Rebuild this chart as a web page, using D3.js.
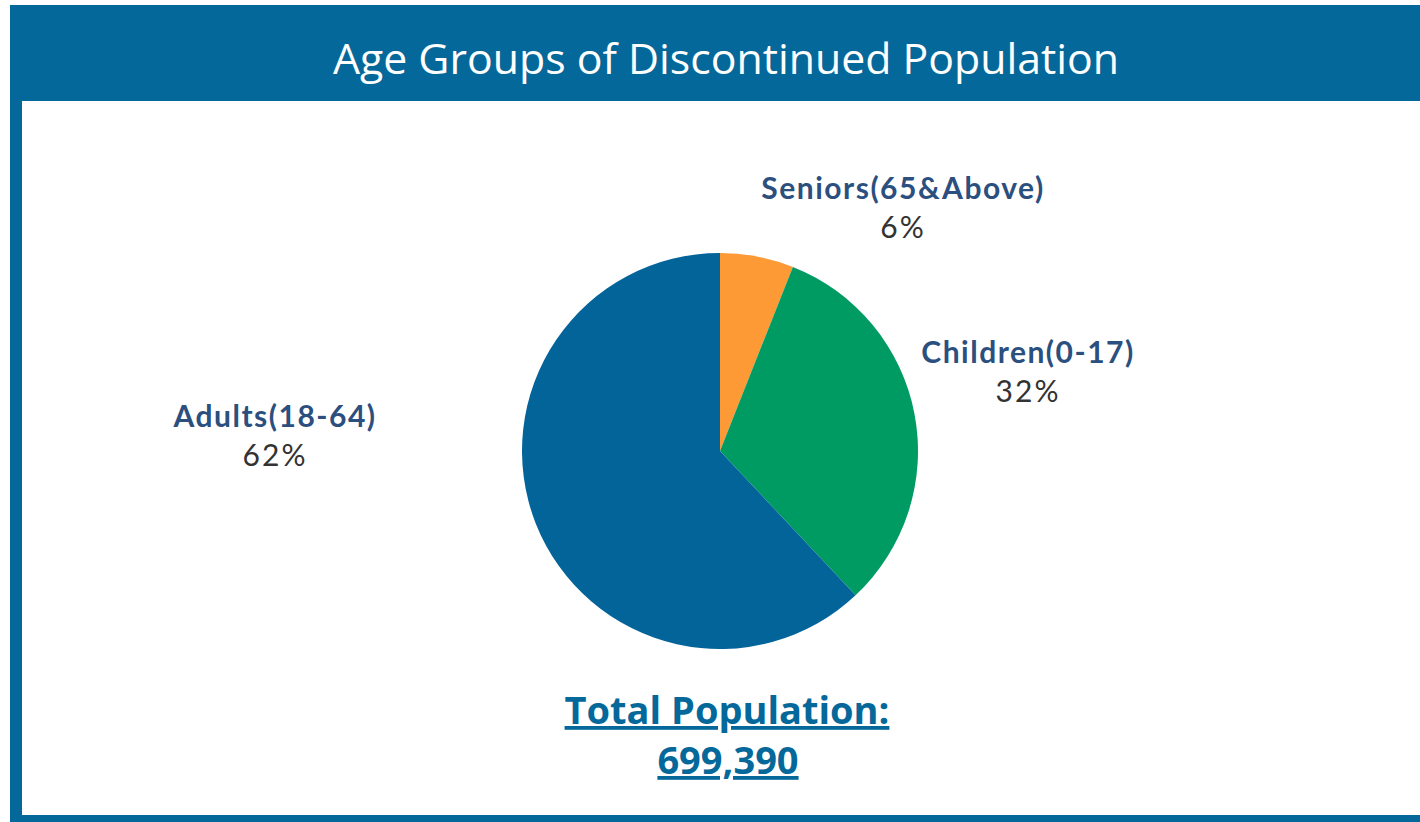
<!DOCTYPE html>
<html>
<head>
<meta charset="utf-8">
<script src="https://cdn.jsdelivr.net/npm/d3@7"></script>
<style>
  html, body { margin: 0; padding: 0; background: #fff; }
  svg { display: block; }
</style>
</head>
<body>
<svg id="chart" width="1420" height="822"></svg>
<script>
// Age group shares of the discontinued population
const categories = ["Seniors(65&Above)", "Children(0-17)", "Adults(18-64)"];
const shares = [6, 32, 62];
const totalPopulation = 699390;
const chartTitle = "Age Groups of Discontinued Population";

const colors = ["#fd9a36", "#009b62", "#03649a"];
const frameBlue = "#05689a";

const svg = d3.select("#chart");
const W = 1420, H = 822;

// Frame: title bar, left rule and bottom rule
svg.append("rect").attr("x", 10).attr("y", 5).attr("width", W - 10).attr("height", 96).attr("fill", frameBlue);
svg.append("rect").attr("x", 10).attr("y", 5).attr("width", 12).attr("height", H - 5).attr("fill", frameBlue);
svg.append("rect").attr("x", 10).attr("y", 815).attr("width", W - 10).attr("height", 7).attr("fill", frameBlue);

svg.append("text")
  .attr("x", 726).attr("y", 74)
  .attr("text-anchor", "middle")
  .attr("fill", "#fff")
  .style("font-family", "'Open Sans', sans-serif")
  .style("font-size", "42.8px")
  .text(chartTitle);

// Pie
const cx = 720, cy = 451, r = 198;
const pie = d3.pie().sort(null).value(d => d)(shares);
const arc = d3.arc().innerRadius(0).outerRadius(r);

const g = svg.append("g").attr("transform", `translate(${cx},${cy})`);
g.selectAll("path")
  .data(pie)
  .join("path")
  .attr("d", arc)
  .attr("fill", (d, i) => colors[i]);

// Label anchors relative to the pie centre
const labelOffsets = [[183, -252], [308, -88], [-445, -24]];
const labels = g.selectAll("g.lbl")
  .data(pie)
  .join("g")
  .attr("class", "lbl")
  .attr("transform", (d, i) => `translate(${labelOffsets[i][0]},${labelOffsets[i][1]})`)
  .style("font-family", "Lato, sans-serif")
  .style("font-size", "30px")
  .attr("text-anchor", "middle");

labels.append("text")
  .attr("y", 0)
  .attr("fill", "#2b4f7e")
  .style("font-weight", "bold")
  .style("letter-spacing", "1.5px")
  .text((d, i) => categories[i]);
labels.append("text")
  .attr("y", 39)
  .attr("fill", "#333")
  .style("letter-spacing", "2px")
  .text(d => d.data + "%");

// Total population caption
const fmt = d3.format(",");
const cap = svg.append("g")
  .style("font-family", "'Open Sans', sans-serif")
  .style("font-weight", "bold")
  .style("font-size", "38px")
  .attr("fill", frameBlue)
  .attr("text-anchor", "middle");
cap.append("text").attr("x", 727).attr("y", 724)
  .style("text-decoration", "underline")
  .text("Total Population:");
cap.append("text").attr("x", 728).attr("y", 774)
  .style("text-decoration", "underline")
  .text(fmt(totalPopulation));
</script>
</body>
</html>
